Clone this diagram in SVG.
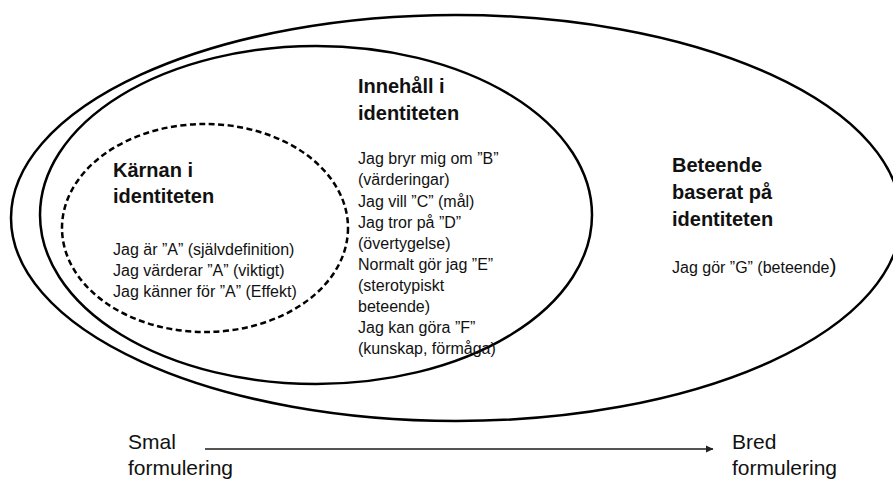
<svg xmlns="http://www.w3.org/2000/svg" width="893" height="479" viewBox="0 0 893 479">
<style>
.ring{fill:none;stroke:#000;stroke-width:2.5}
.dash{fill:none;stroke:#000;stroke-width:2.5;stroke-dasharray:6 3.5}
.h{font-family:"Liberation Sans",Arial,sans-serif;font-weight:bold;font-size:20px;fill:#111}
.b{font-family:"Liberation Sans",Arial,sans-serif;font-size:16px;fill:#111}
.a{font-family:"Liberation Sans",Arial,sans-serif;font-size:21px;fill:#111}
</style>
<defs>
<marker id="arr" markerWidth="8" markerHeight="8" refX="7" refY="4" orient="auto" markerUnits="userSpaceOnUse">
<path d="M0,0.5 L7.5,4 L0,7.5 Z" fill="#222"/>
</marker>
</defs>
<rect width="893" height="479" fill="#fff"/>
<g id="beteende">
<ellipse class="ring" cx="456" cy="218" rx="445" ry="203"/>
<text class="h" x="672" y="172">Beteende</text>
<text class="h" x="672" y="199">baserat på</text>
<text class="h" x="672" y="226">identiteten</text>
<text class="b" x="672" y="273">Jag gör ”G” (beteende<tspan font-size="21">)</tspan></text>
</g>
<g id="innehall">
<ellipse class="ring" cx="316" cy="215" rx="276" ry="169"/>
<text class="h" x="358" y="93">Innehåll i</text>
<text class="h" x="358" y="120">identiteten</text>
<text class="b" x="358" y="164">Jag bryr mig om ”B”</text>
<text class="b" x="358" y="185">(värderingar)</text>
<text class="b" x="358" y="207">Jag vill ”C” (mål)</text>
<text class="b" x="358" y="228">Jag tror på ”D”</text>
<text class="b" x="358" y="249">(övertygelse)</text>
<text class="b" x="358" y="270">Normalt gör jag ”E”</text>
<text class="b" x="358" y="291">(sterotypiskt</text>
<text class="b" x="358" y="312">beteende)</text>
<text class="b" x="358" y="333">Jag kan göra ”F”</text>
<text class="b" x="358" y="354">(kunskap, förmåga)</text>
</g>
<g id="karnan">
<ellipse class="dash" cx="205" cy="228" rx="143" ry="104"/>
<text class="h" x="113" y="177">Kärnan i</text>
<text class="h" x="113" y="203">identiteten</text>
<text class="b" x="113" y="255">Jag är ”A” (självdefinition)</text>
<text class="b" x="113" y="276">Jag värderar ”A” (viktigt)</text>
<text class="b" x="113" y="297">Jag känner för ”A” (Effekt)</text>
</g>
<g id="connectors">
<line x1="205" y1="449" x2="713" y2="449" stroke="#555" stroke-width="2" marker-end="url(#arr)"/>
</g>
<g id="smal">
<text class="a" x="128" y="449">Smal</text>
<text class="a" x="128" y="475">formulering</text>
</g>
<g id="bred">
<text class="a" x="732" y="449">Bred</text>
<text class="a" x="732" y="475">formulering</text>
</g>
</svg>
